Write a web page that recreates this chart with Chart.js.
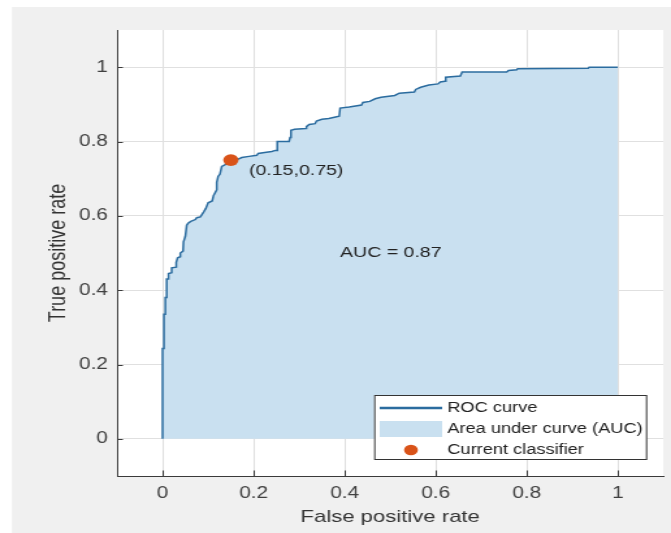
<!DOCTYPE html>
<html>
<head>
<meta charset="utf-8">
<script src="https://cdn.jsdelivr.net/npm/chart.js@4/dist/chart.umd.min.js"></script>
<style>
html,body{margin:0;padding:0;background:#fff;overflow:hidden;width:671px;height:533px}
#wrap{position:absolute;left:0;top:0;width:516px;height:533px;transform:scaleX(1.3004);transform-origin:0 0}
</style>
</head>
<body>
<div id="wrap"><canvas id="c"></canvas></div>
<script>
// ---- data ----
const fpr = [0,0,0.003,0.003,0.006,0.006,0.009,0.009,0.013,0.013,0.02,0.02,0.03,0.03,0.033,0.039,0.039,0.045,0.046,0.05,0.053,0.056,0.062,0.072,0.075,0.083,0.09,0.095,0.1,0.109,0.112,0.119,0.119,0.122,0.126,0.13,0.138,0.14,0.15,0.165,0.174,0.19,0.207,0.21,0.228,0.24,0.248,0.252,0.252,0.278,0.28,0.282,0.29,0.315,0.316,0.322,0.335,0.338,0.35,0.365,0.38,0.388,0.39,0.41,0.437,0.44,0.455,0.467,0.48,0.51,0.52,0.553,0.556,0.567,0.585,0.605,0.61,0.62,0.622,0.654,0.658,0.756,0.76,0.778,0.78,0.935,0.937,1];
const tpr = [0,0.243,0.243,0.335,0.335,0.38,0.38,0.43,0.43,0.445,0.447,0.46,0.462,0.475,0.487,0.49,0.5,0.505,0.53,0.545,0.575,0.58,0.585,0.59,0.595,0.597,0.61,0.62,0.635,0.64,0.655,0.67,0.69,0.706,0.712,0.733,0.738,0.745,0.75,0.752,0.757,0.76,0.763,0.768,0.771,0.773,0.776,0.776,0.8,0.8,0.811,0.83,0.833,0.835,0.84,0.846,0.848,0.855,0.86,0.862,0.866,0.868,0.89,0.893,0.898,0.905,0.908,0.915,0.919,0.924,0.93,0.933,0.94,0.946,0.952,0.955,0.96,0.962,0.973,0.976,0.987,0.987,0.991,0.993,0.996,0.997,1,1];
const classifierX = [0.15];
const classifierY = [0.75];
const aucValue = 0.87;
const xTicks = [0,0.2,0.4,0.6,0.8,1];
const yTicks = [0,0.2,0.4,0.6,0.8,1];
const legendLabels = ['ROC curve','Area under curve (AUC)','Current classifier'];
const xTitle = 'False positive rate';
const yTitle = 'True positive rate';

// ---- styles ----
const FONT = '"Liberation Sans", Arial, Helvetica, sans-serif';
const lineColor = '#2b6c9f';
const fillColor = '#c9e0f0';
const markerColor = '#d95319';
const axisColor = '#3a3a3a';
const gridColor = '#e0e0e0';

const rocData = fpr.map((x,i)=>({x:x, y:tpr[i]}));
const clsData = classifierX.map((x,i)=>({x:x, y:classifierY[i]}));

const bgPlugin = {
  id:'bg',
  beforeDraw(chart){
    const ctx = chart.ctx, w = chart.width, h = chart.height, a = chart.chartArea;
    ctx.save();
    ctx.fillStyle = '#ffffff';
    ctx.fillRect(0,0,w,h);
    ctx.fillStyle = '#f0f0f0';
    ctx.fillRect(9.2,7,w-9.2,h-7);
    ctx.fillStyle = '#ffffff';
    ctx.fillRect(a.left,a.top,a.right-a.left,a.bottom-a.top);
    ctx.restore();
  }
};

const overlayPlugin = {
  id:'overlay',
  afterDraw(chart){
    const ctx = chart.ctx, xs = chart.scales.x, ys = chart.scales.y, a = chart.chartArea;
    ctx.save();
    // inward tick marks
    ctx.strokeStyle = axisColor; ctx.lineWidth = 1;
    xTicks.forEach(v=>{
      const px = Math.round(xs.getPixelForValue(v))+0.5;
      ctx.beginPath(); ctx.moveTo(px,a.bottom); ctx.lineTo(px,a.bottom-5.5); ctx.stroke();
    });
    yTicks.forEach(v=>{
      const py = Math.round(ys.getPixelForValue(v))+0.5;
      ctx.beginPath(); ctx.moveTo(a.left,py); ctx.lineTo(a.left+4.5,py); ctx.stroke();
    });
    // text annotations
    ctx.fillStyle = '#222';
    ctx.font = '15px ' + FONT;
    ctx.textBaseline = 'middle'; ctx.textAlign = 'left';
    const cx = classifierX[0], cy = classifierY[0];
    ctx.fillText('(' + cx + ',' + cy + ')', xs.getPixelForValue(cx+0.04), ys.getPixelForValue(cy-0.03));
    ctx.fillText('AUC = ' + aucValue, xs.getPixelForValue(0.39), ys.getPixelForValue(0.5));
    // legend
    const L = 287.7, R = 497.7, T = 395, B = 460;
    ctx.fillStyle = '#ffffff';
    ctx.fillRect(L,T,R-L,B-T);
    ctx.strokeStyle = '#333'; ctx.lineWidth = 1;
    ctx.strokeRect(L+0.5,T+0.5,R-L-1,B-T-1);
    const rows = [408,429,450];
    const sx0 = 292, sx1 = 340, tx = 344;
    ctx.strokeStyle = lineColor; ctx.lineWidth = 2.5;
    ctx.beginPath(); ctx.moveTo(sx0,rows[0]); ctx.lineTo(sx1,rows[0]); ctx.stroke();
    ctx.fillStyle = fillColor;
    ctx.fillRect(sx0,rows[1]-8,sx1-sx0,16);
    ctx.fillStyle = markerColor;
    ctx.beginPath(); ctx.arc((sx0+sx1)/2,rows[2],5.3,0,Math.PI*2); ctx.fill();
    ctx.fillStyle = '#222';
    ctx.font = '14px ' + FONT;
    legendLabels.forEach((t,i)=>ctx.fillText(t,tx,rows[i]));
    ctx.restore();
  }
};

const tickFont = {family:FONT, size:16};
new Chart(document.getElementById('c'), {
  type:'line',
  data:{
    datasets:[
      {type:'scatter', label:legendLabels[2], data:clsData, pointRadius:5.9, pointBackgroundColor:markerColor, pointBorderWidth:0, showLine:false},
      {type:'line', label:legendLabels[0], data:rocData, borderColor:lineColor, borderWidth:1.5, backgroundColor:fillColor, fill:'origin', pointRadius:0, tension:0}
    ]
  },
  options:{
    responsive:true, maintainAspectRatio:false, animation:false,
    layout:{padding:{left:0,right:2,top:30,bottom:0}},
    plugins:{legend:{display:false}, tooltip:{enabled:false}},
    scales:{
      x:{type:'linear', min:-0.1, max:1.1,
        afterBuildTicks:s=>{s.ticks = xTicks.map(v=>({value:v}));},
        afterFit:s=>{s.height = 57;},
        grid:{color:gridColor, drawTicks:false, lineWidth:1},
        border:{display:true, color:axisColor, width:1},
        ticks:{padding:8, color:'#404040', font:tickFont, maxRotation:0, autoSkip:false, callback:v=>String(v)},
        title:{display:true, text:xTitle, color:'#333', font:{family:FONT, size:17}, padding:{top:0,bottom:5}}
      },
      y:{type:'linear', min:-0.1, max:1.1,
        afterBuildTicks:s=>{s.ticks = yTicks.map(v=>({value:v}));},
        afterFit:s=>{s.width = 90;},
        grid:{color:gridColor, drawTicks:false, lineWidth:1},
        border:{display:true, color:axisColor, width:1},
        ticks:{padding:7, color:'#404040', font:tickFont, autoSkip:false, callback:v=>String(v)},
        title:{display:true, text:yTitle, color:'#333', font:{family:FONT, size:18}, padding:{top:34,bottom:0}}
      }
    }
  },
  plugins:[bgPlugin, overlayPlugin]
});
</script>
</body>
</html>
